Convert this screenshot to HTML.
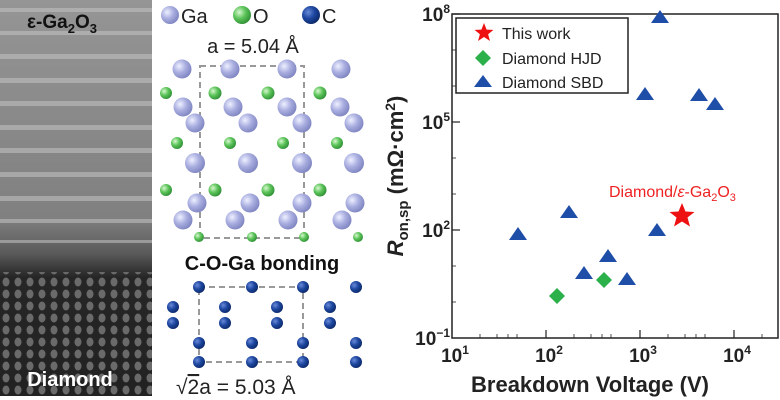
<!DOCTYPE html>
<html><head><meta charset="utf-8"><style>
html,body{margin:0;padding:0;background:#fff;}
svg{display:block;font-family:"Liberation Sans",Arial,sans-serif;}
</style></head><body>
<svg width="780" height="400" viewBox="0 0 780 400" xmlns="http://www.w3.org/2000/svg">
<defs>
<radialGradient id="ga" cx="0.35" cy="0.35" r="0.7"><stop offset="0" stop-color="#eef0ff"/><stop offset="0.5" stop-color="#a9aee0"/><stop offset="1" stop-color="#7e84c0"/></radialGradient>
<radialGradient id="ox" cx="0.35" cy="0.35" r="0.7"><stop offset="0" stop-color="#d8f8d0"/><stop offset="0.5" stop-color="#5cc45a"/><stop offset="1" stop-color="#2f8f35"/></radialGradient>
<radialGradient id="cc" cx="0.35" cy="0.35" r="0.7"><stop offset="0" stop-color="#6a8ad8"/><stop offset="0.5" stop-color="#1d47a0"/><stop offset="1" stop-color="#0c2868"/></radialGradient>
<linearGradient id="tem" x1="0" y1="0" x2="0" y2="1">
<stop offset="0" stop-color="#959595"/><stop offset="0.55" stop-color="#808080"/><stop offset="0.64" stop-color="#5a5a5a"/><stop offset="0.70" stop-color="#262626"/><stop offset="1" stop-color="#222"/></linearGradient>
<pattern id="dots" width="12" height="12" patternUnits="userSpaceOnUse"><ellipse cx="6" cy="6" rx="3.5" ry="4.5" fill="#6a6a6a"/></pattern>
</defs>
<rect x="0" y="0" width="152" height="396" fill="url(#tem)"/>
<g fill="#c4c4c4" opacity="0.55">
<rect x="0" y="8" width="152" height="4"/><rect x="0" y="31" width="152" height="4"/>
<rect x="0" y="54" width="152" height="5"/><rect x="0" y="78" width="152" height="5"/>
<rect x="0" y="101" width="152" height="5"/><rect x="0" y="125" width="152" height="5"/>
<rect x="0" y="148" width="152" height="5"/><rect x="0" y="172" width="152" height="5"/>
<rect x="0" y="196" width="152" height="5"/><rect x="0" y="219" width="152" height="4"/>
<rect x="0" y="240" width="152" height="3"/>
</g>
<rect x="0" y="272" width="152" height="124" fill="url(#dots)"/>
<text x="62" y="28" font-size="19" font-weight="bold" text-anchor="middle" fill="#111">ε-Ga<tspan font-size="13" dy="5">2</tspan><tspan dy="-5">O</tspan><tspan font-size="13" dy="5">3</tspan></text>
<text x="70" y="386" font-size="20" font-weight="bold" text-anchor="middle" fill="#fff">Diamond</text>

<circle cx="170" cy="15" r="9" fill="url(#ga)"/><text x="181" y="23" font-size="20" fill="#222">Ga</text>
<circle cx="242" cy="15" r="9" fill="url(#ox)"/><text x="253" y="23" font-size="20" fill="#222">O</text>
<circle cx="311" cy="15" r="9" fill="url(#cc)"/><text x="322" y="23" font-size="20" fill="#222">C</text>
<text x="253" y="53" font-size="20" text-anchor="middle" fill="#222">a = 5.04 Å</text>
<rect x="200" y="66" width="104" height="172" fill="none" stroke="#999" stroke-width="2" stroke-dasharray="6,4"/>
<g fill="url(#ox)">
<circle cx="166" cy="93" r="6"/><circle cx="215" cy="93" r="6.5"/><circle cx="268" cy="93" r="6.5"/><circle cx="320" cy="93" r="6.5"/>
<circle cx="177" cy="143" r="6"/><circle cx="230" cy="143" r="6"/><circle cx="283" cy="143" r="6"/><circle cx="337" cy="143" r="6"/>
<circle cx="166" cy="190" r="6"/><circle cx="215" cy="190" r="6.5"/><circle cx="268" cy="190" r="6.5"/><circle cx="320" cy="190" r="6.5"/>
<circle cx="199" cy="237" r="5"/><circle cx="252" cy="237" r="5"/><circle cx="304" cy="237" r="5"/><circle cx="358" cy="237" r="5"/>
</g>
<g fill="url(#ga)">
<circle cx="182" cy="69" r="9.5"/><circle cx="230" cy="69" r="9.5"/><circle cx="287" cy="69" r="9.5"/><circle cx="341" cy="69" r="9.5"/>
<circle cx="183" cy="107" r="9.5"/><circle cx="233" cy="107" r="9.5"/><circle cx="287" cy="107" r="9.5"/><circle cx="340" cy="107" r="9.5"/>
<circle cx="195" cy="123" r="9.5"/><circle cx="248" cy="123" r="9.5"/><circle cx="302" cy="123" r="9.5"/><circle cx="354" cy="123" r="9.5"/>
<circle cx="195" cy="163" r="10"/><circle cx="248" cy="163" r="10"/><circle cx="302" cy="163" r="10"/><circle cx="354" cy="163" r="10"/>
<circle cx="197" cy="203" r="9.5"/><circle cx="250" cy="203" r="9.5"/><circle cx="302" cy="203" r="9.5"/><circle cx="355" cy="203" r="9.5"/>
<circle cx="183" cy="220" r="9.5"/><circle cx="235" cy="220" r="9.5"/><circle cx="288" cy="220" r="9.5"/><circle cx="342" cy="220" r="9.5"/>
</g>
<text x="262" y="270" font-size="20" font-weight="bold" text-anchor="middle" fill="#111">C-O-Ga bonding</text>
<rect x="199" y="287" width="104" height="75" fill="none" stroke="#999" stroke-width="2" stroke-dasharray="6,4"/>
<g fill="url(#cc)">
<circle cx="199" cy="287" r="6"/><circle cx="252" cy="287" r="6"/><circle cx="303" cy="287" r="6"/><circle cx="356" cy="287" r="6"/>
<circle cx="173" cy="307" r="6"/><circle cx="225" cy="307" r="6"/><circle cx="277" cy="307" r="6"/><circle cx="330" cy="307" r="6"/>
<circle cx="173" cy="323" r="6"/><circle cx="225" cy="323" r="6"/><circle cx="277" cy="323" r="6"/><circle cx="330" cy="323" r="6"/>
<circle cx="199" cy="343" r="6"/><circle cx="252" cy="343" r="6"/><circle cx="303" cy="343" r="6"/><circle cx="356" cy="343" r="6"/>
<circle cx="199" cy="362" r="6"/><circle cx="252" cy="362" r="6"/><circle cx="303" cy="362" r="6"/><circle cx="356" cy="362" r="6"/>
</g>
<text x="176" y="394" font-size="21" fill="#222">√<tspan text-decoration="overline">2</tspan>a = 5.03 Å</text>

<rect x="452" y="14" width="326" height="324" fill="none" stroke="#222" stroke-width="1.5"/>
<g stroke="#222" stroke-width="1.2">
<line x1="452" y1="14" x2="460" y2="14"/><line x1="452" y1="122" x2="460" y2="122"/><line x1="452" y1="230" x2="460" y2="230"/>
<line x1="546" y1="338" x2="546" y2="330"/><line x1="640" y1="338" x2="640" y2="330"/><line x1="734" y1="338" x2="734" y2="330"/>
</g>
<g stroke="#222" stroke-width="0.8">
<line x1="452" y1="50" x2="456" y2="50"/><line x1="452" y1="86" x2="456" y2="86"/><line x1="452" y1="158" x2="456" y2="158"/><line x1="452" y1="194" x2="456" y2="194"/><line x1="452" y1="266" x2="456" y2="266"/><line x1="452" y1="302" x2="456" y2="302"/>
<line x1="480" y1="338" x2="480" y2="334"/><line x1="497" y1="338" x2="497" y2="334"/><line x1="508" y1="338" x2="508" y2="334"/><line x1="517" y1="338" x2="517" y2="334"/>
<line x1="574" y1="338" x2="574" y2="334"/><line x1="591" y1="338" x2="591" y2="334"/><line x1="602" y1="338" x2="602" y2="334"/><line x1="611" y1="338" x2="611" y2="334"/>
<line x1="668" y1="338" x2="668" y2="334"/><line x1="685" y1="338" x2="685" y2="334"/><line x1="696" y1="338" x2="696" y2="334"/><line x1="705" y1="338" x2="705" y2="334"/>
<line x1="762" y1="338" x2="762" y2="334"/>
</g>
<g font-size="19" font-weight="bold" fill="#222" text-anchor="end">
<text x="450" y="21">10<tspan font-size="12" dy="-8">8</tspan></text>
<text x="450" y="129">10<tspan font-size="12" dy="-8">5</tspan></text>
<text x="450" y="237">10<tspan font-size="12" dy="-8">2</tspan></text>
<text x="450" y="345">10<tspan font-size="12" dy="-8">−1</tspan></text>
</g>
<g font-size="19" font-weight="bold" fill="#222" text-anchor="middle">
<text x="455" y="362">10<tspan font-size="12" dy="-8">1</tspan></text>
<text x="549" y="362">10<tspan font-size="12" dy="-8">2</tspan></text>
<text x="643" y="362">10<tspan font-size="12" dy="-8">3</tspan></text>
<text x="737" y="362">10<tspan font-size="12" dy="-8">4</tspan></text>
</g>
<text x="590" y="392" font-size="22" font-weight="bold" fill="#222" text-anchor="middle">Breakdown Voltage (V)</text>
<text transform="translate(403,176) rotate(-90)" font-size="22" font-weight="bold" fill="#222" text-anchor="middle"><tspan font-style="italic">R</tspan><tspan font-size="15" dy="5">on,sp</tspan><tspan dy="-5"> (mΩ·cm</tspan><tspan font-size="14" dy="-8">2</tspan><tspan dy="8">)</tspan></text>
<rect x="456" y="18" width="172" height="75" fill="#fff" stroke="#222" stroke-width="1.5"/>
<polygon points="484,23 486.6,29.6 493.5,29.9 488.1,34.3 490,41 484,37 478,41 479.9,34.3 474.5,29.9 481.4,29.6" fill="#ee1111"/>
<text x="502" y="39" font-size="16" fill="#222">This work</text>
<polygon points="483,50 491,58 483,66 475,58" fill="#2cb04a"/>
<text x="502" y="64" font-size="16" fill="#222">Diamond HJD</text>
<polygon points="483,75 492,87 474,87" fill="#1f4ea8"/>
<text x="502" y="88" font-size="16" fill="#222">Diamond SBD</text>
<g fill="#1f4ea8">
<polygon points="518,227 527,240 509,240"/><polygon points="569,205 578,218 560,218"/><polygon points="584,266 593,279 575,279"/>
<polygon points="608,249 617,262 599,262"/><polygon points="627,272 636,285 618,285"/><polygon points="657,223 666,236 648,236"/>
<polygon points="645,87 654,100 636,100"/><polygon points="660,10 669,23 651,23"/><polygon points="699,88 708,101 690,101"/>
<polygon points="715,97 724,110 706,110"/>
</g>
<polygon points="557,288 565,296 557,304 549,296" fill="#2cb04a"/><polygon points="604,272 612,280 604,288 596,280" fill="#2cb04a"/>
<polygon points="682,203 685.5,211.5 694.5,212 687.5,217.5 690,226.5 682,221.5 674,226.5 676.5,217.5 669.5,212 678.5,211.5" fill="#ee1111"/>
<text x="609" y="197" font-size="16" fill="#ee2222">Diamond/<tspan font-style="italic">ε</tspan>-Ga<tspan font-size="11" dy="4">2</tspan><tspan dy="-4">O</tspan><tspan font-size="11" dy="4">3</tspan></text>
</svg>
</body></html>
